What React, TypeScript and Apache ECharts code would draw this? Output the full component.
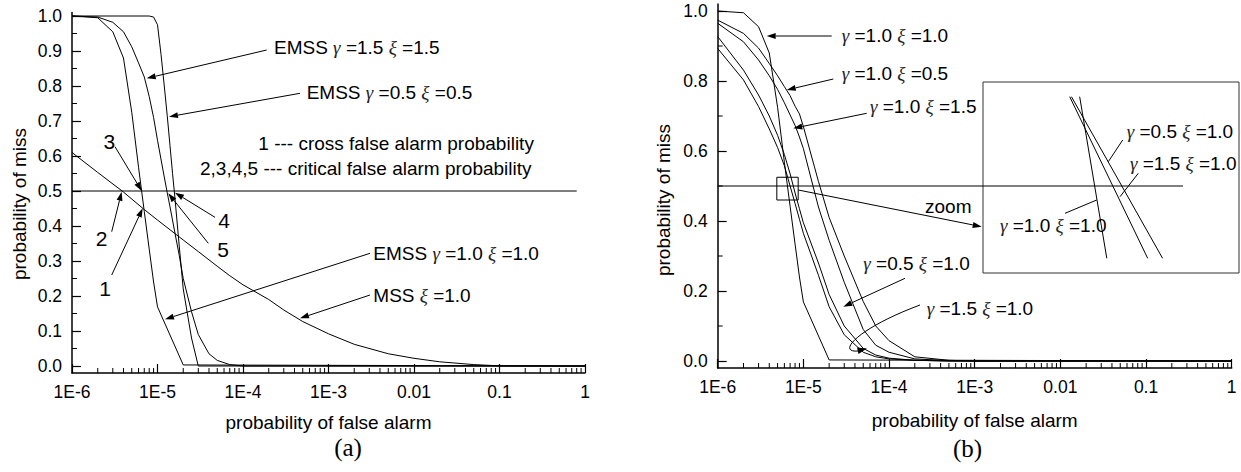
import { useEffect, useRef } from "react";
import * as echarts from "echarts";

// ---------- panel (a) ----------
// EMSS gamma=1.0 xi=1.0 (also used in panel (b))
const emssG10X10Pfa = [1e-6, 2e-6, 3e-6, 4e-6, 5e-6, 6e-6, 7e-6, 8e-6, 9e-6, 1e-5, 2e-5, 1];
const emssG10X10Pm = [1.0, 0.995, 0.955, 0.88, 0.725, 0.568, 0.442, 0.334, 0.24, 0.169, 0.003, 0];

// EMSS gamma=1.5 xi=1.5
const emssG15X15Pfa = [1e-6, 2e-6, 3e-6, 4e-6, 5e-6, 6e-6, 7e-6, 8e-6, 9e-6, 1e-5, 1.2e-5, 1.3e-5, 1.4e-5, 1.6e-5, 1.8e-5, 2e-5, 2.5e-5, 3e-5, 4e-5, 5e-5, 7e-5, 1e-4, 1];
const emssG15X15Pm = [1.0, 0.997, 0.982, 0.955, 0.912, 0.866, 0.826, 0.77, 0.71, 0.645, 0.54, 0.495, 0.455, 0.38, 0.315, 0.25, 0.155, 0.09, 0.035, 0.016, 0.004, 0, 0];

// EMSS gamma=0.5 xi=0.5
const emssG05X05Pfa = [1e-6, 8e-6, 9e-6, 1e-5, 1.1e-5, 1.2e-5, 1.3e-5, 1.4e-5, 1.5e-5, 1.6e-5, 1.8e-5, 2e-5, 2.5e-5, 3e-5, 1];
const emssG05X05Pm = [1.0, 1.0, 0.997, 0.975, 0.89, 0.8, 0.715, 0.63, 0.55, 0.48, 0.34, 0.22, 0.08, 0, 0];

// MSS xi=1.0
const mssPfa = [1e-6, 2e-6, 4e-6, 7e-6, 1e-5, 2e-5, 3e-5, 5e-5, 7e-5, 1e-4, 2e-4, 3e-4, 5e-4, 1e-3, 2e-3, 5e-3, 1e-2, 2e-2, 5e-2, 1e-1, 2e-1, 1];
const mssPm = [0.61, 0.553, 0.497, 0.447, 0.417, 0.36, 0.327, 0.285, 0.258, 0.232, 0.19, 0.16, 0.127, 0.092, 0.062, 0.035, 0.022, 0.012, 0.004, 0.0005, 0, 0];

// ---------- panel (b) ----------
const pfaB = [1e-6, 2e-6, 3e-6, 4e-6, 5e-6, 6e-6, 7e-6, 8e-6, 9e-6, 1e-5, 1.5e-5, 2e-5, 3e-5, 5e-5, 7e-5, 1e-4, 2e-4, 5e-4, 1e-3, 1e-2, 0.1, 1];
const g10x05 = [0.974, 0.936, 0.894, 0.85, 0.815, 0.784, 0.758, 0.728, 0.706, 0.67, 0.513, 0.41, 0.3, 0.17, 0.1, 0.058, 0.012, 0.002, 0, 0, 0, 0];
const g10x15 = [0.965, 0.912, 0.86, 0.815, 0.776, 0.738, 0.703, 0.673, 0.64, 0.607, 0.44, 0.345, 0.225, 0.09, 0.045, 0.025, 0.006, 0.001, 0, 0, 0, 0];
const g05x10 = [0.927, 0.831, 0.76, 0.7, 0.645, 0.59, 0.535, 0.48, 0.435, 0.395, 0.28, 0.19, 0.1, 0.036, 0.017, 0.008, 0.002, 0, 0, 0, 0, 0];
const g15x10 = [0.893, 0.803, 0.727, 0.663, 0.61, 0.558, 0.5, 0.45, 0.405, 0.365, 0.245, 0.155, 0.075, 0.025, 0.012, 0.006, 0.002, 0, 0, 0, 0, 0];

// threshold lines at Pm = 0.5
const halfA = [[1e-6, 0.5], [0.8, 0.5]];
const halfB = [[1e-6, 0.5], [0.27, 0.5]];

// zoom window in panel (b) and the magnified segments shown in the inset
const zoomPfa = [4.9e-6, 8.7e-6];
const zoomPm = [0.46, 0.525];
const insetG10X10 = [[6.086e-6, 0.52], [6.468e-6, 0.465]];
const insetG15X10 = [[5.952e-6, 0.52], [7.089e-6, 0.465]];
const insetG05X10 = [[5.975e-6, 0.52], [7.33e-6, 0.465]];

// tick values
const yMajorA = [0, 0.1, 0.2, 0.3, 0.4, 0.5, 0.6, 0.7, 0.8, 0.9, 1.0];
const yMinorA = [0.05, 0.15, 0.25, 0.35, 0.45, 0.55, 0.65, 0.75, 0.85, 0.95];
const yMajorB = [0, 0.2, 0.4, 0.6, 0.8, 1.0];
const yMinorB = [0.1, 0.3, 0.5, 0.7, 0.9];
const decades = [-6, -5, -4, -3, -2, -1];
const minorPfa = decades.flatMap((e) => [2, 3, 4, 5, 6, 7, 8, 9].map((k) => k * Math.pow(10, e)));

const Y_MIN = -0.02;
const FONT = "'Liberation Sans', Arial, sans-serif";
const SERIF = "'Liberation Serif', 'Times New Roman', serif";

const zip = (xs: number[], ys: number[]) => xs.map((x, i) => [x, ys[i]]);

const fmtPfa = (v: number) => {
  const e = Math.round(Math.log10(v));
  return e >= -2 ? String(Math.pow(10, e)) : "1E" + e;
};

const curve = (data: number[][], xi: number, name: string) => ({
  type: "line",
  name,
  xAxisIndex: xi,
  yAxisIndex: xi,
  data,
  symbol: "none",
  showSymbol: false,
  silent: true,
  lineStyle: { color: "#000", width: 1 },
  emphasis: { disabled: true },
  z: 3,
});

const xMinorTicks = (xi: number) => ({
  type: "custom",
  xAxisIndex: xi,
  yAxisIndex: xi,
  silent: true,
  clip: false,
  data: minorPfa.map((v) => [v, Y_MIN]),
  renderItem: (_p: any, api: any) => {
    const p = api.coord([api.value(0), api.value(1)]);
    return { type: "line", shape: { x1: p[0], y1: p[1], x2: p[0], y2: p[1] - 5 }, style: { stroke: "#000", lineWidth: 1 } };
  },
  z: 4,
});

const yMinorTicks = (xi: number, vals: number[]) => ({
  type: "custom",
  xAxisIndex: xi,
  yAxisIndex: xi,
  silent: true,
  clip: false,
  data: vals.map((v) => [1e-6, v]),
  renderItem: (_p: any, api: any) => {
    const p = api.coord([api.value(0), api.value(1)]);
    return { type: "line", shape: { x1: p[0], y1: p[1], x2: p[0] + 5, y2: p[1] }, style: { stroke: "#000", lineWidth: 1 } };
  },
  z: 4,
});

const axisLine = { show: true, onZero: false, lineStyle: { color: "#000", width: 1.5 } };
const tickFont = { color: "#000", fontSize: 17.5, fontFamily: FONT };

const logAxis = (gridIndex: number, nameGap: number) => ({
  type: "log",
  logBase: 10,
  gridIndex,
  min: 1e-6,
  max: 1,
  axisLine,
  axisTick: { show: true, inside: true, length: 9, lineStyle: { color: "#000", width: 1.2 } },
  axisLabel: { ...tickFont, margin: 10, formatter: fmtPfa },
  splitLine: { show: false },
  name: "probability of false alarm",
  nameLocation: "middle",
  nameGap,
  nameTextStyle: { color: "#000", fontSize: 19, fontFamily: FONT },
});

const valAxis = (gridIndex: number, max: number, majors: number[]) => ({
  type: "value",
  gridIndex,
  min: Y_MIN,
  max,
  axisLine,
  axisTick: { show: true, inside: true, length: 9, customValues: majors, lineStyle: { color: "#000", width: 1.2 } },
  axisLabel: { ...tickFont, margin: 10, customValues: majors, formatter: (v: number) => v.toFixed(1) },
  splitLine: { show: false },
});

const greek = { g: { fontFamily: SERIF, fontStyle: "italic", fontSize: 19, fill: "#222", color: "#222" } };

const text = (t: string, x: number, y: number, extra: any = {}, rotation = 0) => ({
  type: "text",
  x,
  y,
  rotation,
  z: 20,
  style: { text: t, fontFamily: FONT, fontSize: 19, fill: "#000", align: "left", verticalAlign: "middle", rich: greek, ...extra },
});

const arrow = (x1: number, y1: number, x2: number, y2: number, head = 9, half = 3) => {
  const dx = x2 - x1;
  const dy = y2 - y1;
  const len = Math.hypot(dx, dy);
  const ux = dx / len;
  const uy = dy / len;
  const bx = x2 - ux * head;
  const by = y2 - uy * head;
  return [
    { type: "line", z: 20, shape: { x1, y1, x2: bx, y2: by }, style: { stroke: "#000", lineWidth: 1 } },
    {
      type: "polygon",
      z: 20,
      shape: { points: [[x2, y2], [bx - uy * half, by + ux * half], [bx + uy * half, by - ux * half]] },
      style: { fill: "#000" },
    },
  ];
};

const plainLine = (x1: number, y1: number, x2: number, y2: number) => ({
  type: "line",
  z: 20,
  shape: { x1, y1, x2, y2 },
  style: { stroke: "#000", lineWidth: 1 },
});

export default function App() {
  const ref = useRef<HTMLDivElement>(null);

  useEffect(() => {
    if (!ref.current) return;
    const chart = echarts.init(ref.current, null, { renderer: "svg" });

    const elements: any[] = [
      // axis titles (vertical)
      text("probability of miss", 19, 204, { align: "center" }, Math.PI / 2),
      text("probability of miss", 663.5, 200, { align: "center" }, Math.PI / 2),
      // panel captions
      text("(a)", 348, 447, { align: "center", fontFamily: SERIF, fontSize: 25 }),
      text("(b)", 967.5, 448, { align: "center", fontFamily: SERIF, fontSize: 25 }),

      // panel (a) annotations
      text("EMSS {g|γ} =1.5 {g|ξ} =1.5", 274, 47),
      text("EMSS {g|γ} =0.5 {g|ξ} =0.5", 306.7, 92),
      text("1 --- cross false alarm probability", 258.3, 143.3),
      text("2,3,4,5 --- critical false alarm probability", 200, 168.3),
      text("EMSS {g|γ} =1.0 {g|ξ} =1.0", 373.3, 253.3),
      text("MSS {g|ξ} =1.0", 373.3, 295),
      text("3", 109.3, 141.7, { align: "center", fontSize: 21 }),
      text("2", 101.7, 238.3, { align: "center", fontSize: 21 }),
      text("1", 105, 288, { align: "center", fontSize: 21 }),
      text("4", 224, 220, { align: "center", fontSize: 21 }),
      text("5", 223, 249, { align: "center", fontSize: 21 }),
      ...arrow(115, 146.7, 141.7, 191),
      ...arrow(111.7, 231.7, 121.7, 191.7),
      ...arrow(111.7, 275, 142.7, 208.3),
      ...arrow(215, 217.3, 175, 192.7),
      ...arrow(208.3, 243.3, 168.3, 193.3),
      ...arrow(266.7, 50, 146.7, 78.3),
      ...arrow(300, 93.3, 169, 116.7),
      ...arrow(370, 253.3, 165, 319.3),
      ...arrow(370, 295, 300, 318.3),

      // panel (b) annotations
      text("{g|γ} =1.0 {g|ξ} =1.0", 841.7, 35),
      text("{g|γ} =1.0 {g|ξ} =0.5", 841.7, 73.3),
      text("{g|γ} =1.0 {g|ξ} =1.5", 870, 106.7),
      text("{g|γ} =0.5 {g|ξ} =1.0", 863.3, 263.3),
      text("{g|γ} =1.5 {g|ξ} =1.0", 926.7, 308.3),
      text("zoom", 925, 206.7),
      ...arrow(831.7, 36, 766.7, 36),
      ...arrow(833.3, 79, 786.7, 90),
      ...arrow(866.7, 113.3, 793.3, 128.3),
      ...arrow(905, 278.3, 843.3, 306.7),
      ...arrow(798.3, 190, 981.7, 226.7),
      {
        type: "bezierCurve",
        z: 20,
        shape: { x1: 920, y1: 305, cpx1: 858, cpy1: 328, cpx2: 836, cpy2: 353, x2: 858, y2: 351 },
        style: { stroke: "#000", lineWidth: 1, fill: "none" },
      },
      {
        type: "polygon",
        z: 20,
        shape: { points: [[867, 348.5], [857, 347.5], [858.5, 354]] },
        style: { fill: "#000" },
      },

      // inset labels
      text("{g|γ} =0.5 {g|ξ} =1.0", 1126.7, 131.7),
      text("{g|γ} =1.5 {g|ξ} =1.0", 1130, 163.3),
      text("{g|γ} =1.0 {g|ξ} =1.0", 1000, 225),
      plainLine(1122.7, 140, 1108.3, 161.7),
      plainLine(1138.3, 173.3, 1120, 196.7),
      plainLine(1065, 213.3, 1096.7, 200),
    ];

    chart.setOption({
      animation: false,
      backgroundColor: "#fff",
      grid: [
        { left: 72, top: 12.5, width: 513, height: 360.5 },
        { left: 717.7, top: 4, width: 514, height: 364 },
        { left: 983, top: 82, width: 256, height: 191, show: true, borderColor: "#333", borderWidth: 1, backgroundColor: "transparent" },
      ],
      xAxis: [
        logAxis(0, 39.5),
        logAxis(1, 42.5),
        { type: "log", logBase: 10, gridIndex: 2, min: zoomPfa[0], max: zoomPfa[1], show: false },
      ],
      yAxis: [
        valAxis(0, 1.01, yMajorA),
        valAxis(1, 1.02, yMajorB),
        { type: "value", gridIndex: 2, min: zoomPm[0], max: zoomPm[1], show: false },
      ],
      series: [
        curve(zip(mssPfa, mssPm), 0, "MSS xi=1.0"),
        curve(zip(emssG10X10Pfa, emssG10X10Pm), 0, "EMSS gamma=1.0 xi=1.0"),
        curve(zip(emssG15X15Pfa, emssG15X15Pm), 0, "EMSS gamma=1.5 xi=1.5"),
        curve(zip(emssG05X05Pfa, emssG05X05Pm), 0, "EMSS gamma=0.5 xi=0.5"),
        curve(halfA, 0, "Pm=0.5"),
        xMinorTicks(0),
        yMinorTicks(0, yMinorA),

        curve(zip(emssG10X10Pfa, emssG10X10Pm), 1, "gamma=1.0 xi=1.0"),
        curve(zip(pfaB, g10x05), 1, "gamma=1.0 xi=0.5"),
        curve(zip(pfaB, g10x15), 1, "gamma=1.0 xi=1.5"),
        curve(zip(pfaB, g05x10), 1, "gamma=0.5 xi=1.0"),
        curve(zip(pfaB, g15x10), 1, "gamma=1.5 xi=1.0"),
        curve(halfB, 1, "Pm=0.5 (b)"),
        curve(
          [
            [zoomPfa[0], zoomPm[0]],
            [zoomPfa[1], zoomPm[0]],
            [zoomPfa[1], zoomPm[1]],
            [zoomPfa[0], zoomPm[1]],
            [zoomPfa[0], zoomPm[0]],
          ],
          1,
          "zoom window"
        ),
        xMinorTicks(1),
        yMinorTicks(1, yMinorB),

        curve(insetG10X10, 2, "inset gamma=1.0"),
        curve(insetG15X10, 2, "inset gamma=1.5"),
        curve(insetG05X10, 2, "inset gamma=0.5"),
      ],
      graphic: { elements },
    });

    return () => chart.dispose();
  }, []);

  return (
    <div
      ref={ref}
      style={{ position: "fixed", left: 0, top: 0, width: 1241, height: 472, background: "#fff" }}
    />
  );
}
